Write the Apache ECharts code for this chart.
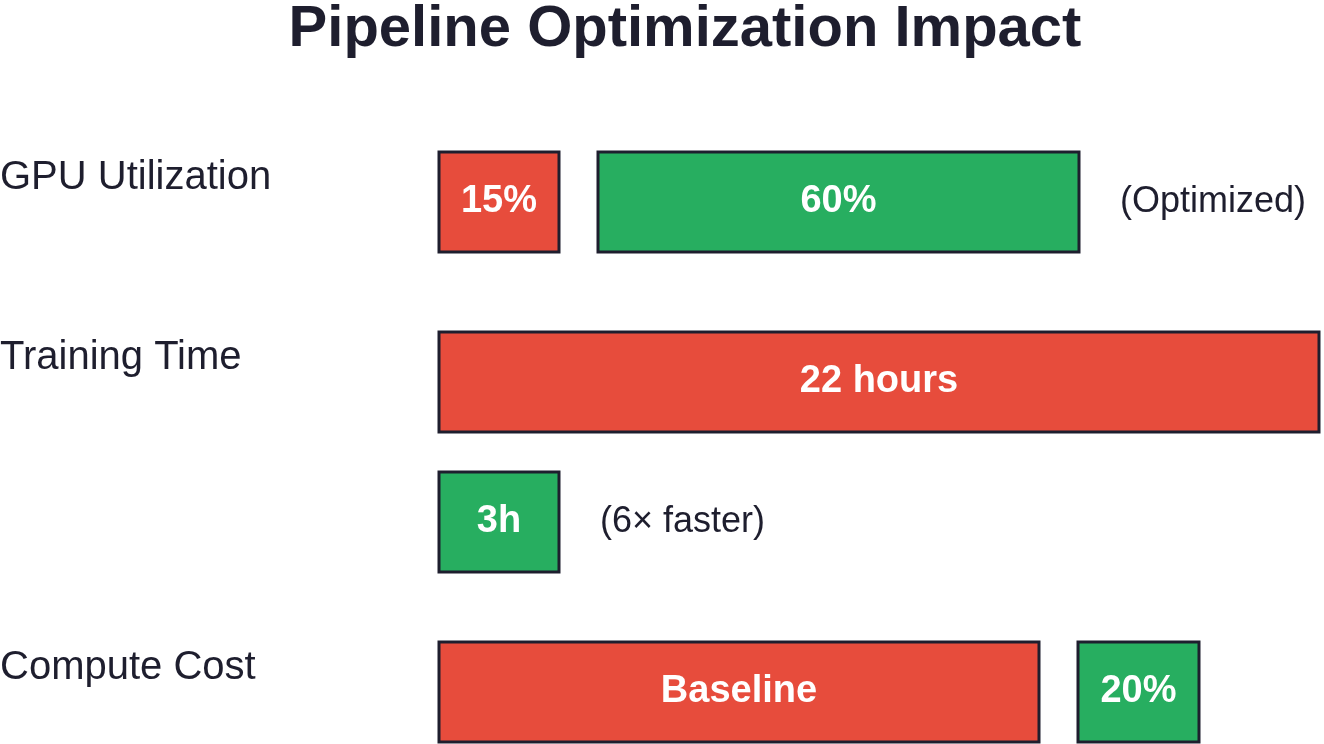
<!DOCTYPE html>
<html>
<head>
<meta charset="utf-8">
<script src="https://cdn.jsdelivr.net/npm/echarts@6/dist/echarts.min.js"></script>
<style>html,body{margin:0;padding:0;background:#fff}#chart{width:1324px;height:744px}</style>
</head>
<body>
<div id="chart"></div>
<script>
// bars: start, end, row centre, label, kind
const barStart = [439, 598, 439, 439, 439, 1078];
const barEnd = [559, 1079, 1319, 559, 1039, 1199];
const barRow = [202, 202, 382, 522, 692, 692];
const barLabels = ['15%', '60%', '22 hours', '3h', 'Baseline', '20%'];
const barKinds = ['before', 'after', 'before', 'after', 'before', 'after'];

const rowNames = ['GPU Utilization', 'Training Time', 'Compute Cost'];
const rowNameY = [178, 358, 668];
const notes = ['(Optimized)', '(6× faster)'];
const noteX = [1120, 600];
const noteY = [202, 522];

const colors = { before: '#e74c3c', after: '#27ae60' };
const chart = echarts.init(document.getElementById('chart'));

chart.setOption({
    animation: false,
    title: {
        text: 'Pipeline Optimization Impact',
        left: 680, top: -4, textAlign: 'center',
        textStyle: { fontFamily: 'Liberation Sans', fontSize: 58, fontWeight: 'bold', color: '#1e1e2e' }
    },
    grid: { left: 0, right: 0, top: 0, bottom: 0 },
    xAxis: { type: 'value', min: 0, max: 1324, show: false },
    yAxis: { type: 'value', min: 0, max: 744, inverse: true, show: false },
    series: [
        {
            type: 'custom',
            data: barStart.map((s, i) => [s, barEnd[i], barRow[i], barLabels[i], barKinds[i]]),
            renderItem: function (params, api) {
                const p0 = api.coord([api.value(0), api.value(2)]);
                const p1 = api.coord([api.value(1), api.value(2)]);
                const h = api.size([0, 100])[1];
                const kind = barKinds[params.dataIndex];
                return {
                    type: 'rect',
                    shape: { x: p0[0], y: p0[1] - h / 2, width: p1[0] - p0[0], height: h },
                    style: { fill: colors[kind], stroke: '#1e1e2e', lineWidth: 3 },
                    textContent: {
                        style: {
                            text: barLabels[params.dataIndex], fill: '#fff',
                            fontFamily: 'Liberation Sans', fontSize: 38, fontWeight: 'bold'
                        }
                    },
                    textConfig: { position: 'inside' }
                };
            }
        },
        {
            type: 'custom',
            data: rowNames.map((n, i) => [0, rowNameY[i]]),
            renderItem: function (params, api) {
                const p = api.coord([api.value(0), api.value(1)]);
                return {
                    type: 'text',
                    style: {
                        x: p[0], y: p[1], text: rowNames[params.dataIndex],
                        verticalAlign: 'middle', fill: '#1e1e2e',
                        fontFamily: 'Liberation Sans', fontSize: 40
                    }
                };
            }
        },
        {
            type: 'custom',
            data: notes.map((n, i) => [noteX[i], noteY[i]]),
            renderItem: function (params, api) {
                const p = api.coord([api.value(0), api.value(1)]);
                return {
                    type: 'text',
                    style: {
                        x: p[0], y: p[1], text: notes[params.dataIndex],
                        verticalAlign: 'middle', fill: '#1e1e2e',
                        fontFamily: 'Liberation Sans', fontSize: 36
                    }
                };
            }
        }
    ]
});
</script>
</body>
</html>
